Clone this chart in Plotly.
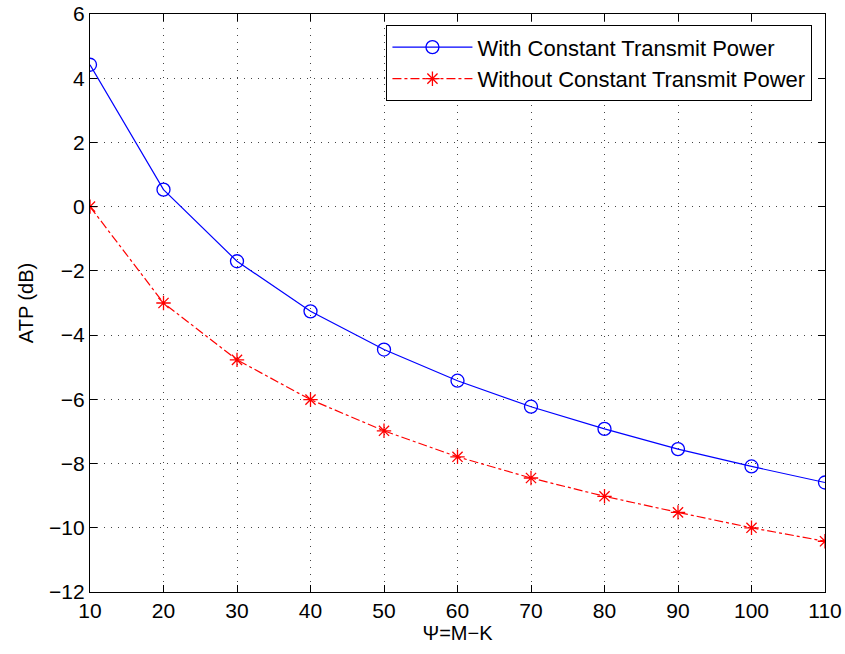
import plotly.graph_objects as go

psi = [10, 20, 30, 40, 50, 60, 70, 80, 90, 100, 110]
atp_const = [4.42, 0.53, -1.70, -3.26, -4.45, -5.42, -6.23, -6.92, -7.55, -8.09, -8.59]
atp_noconst = [0.0, -3.0, -4.77, -6.01, -6.98, -7.79, -8.45, -9.02, -9.52, -10.0, -10.42]
x_ticks = [10, 20, 30, 40, 50, 60, 70, 80, 90, 100, 110]
y_ticks = [-12, -10, -8, -6, -4, -2, 0, 2, 4, 6]

fig = go.Figure()
fig.add_trace(go.Scatter(
    x=psi, y=atp_const, mode="lines+markers",
    name="With Constant Transmit Power",
    line=dict(color="#0000ff", width=1.2),
    marker=dict(symbol="circle-open", size=13, color="#0000ff", line=dict(width=1.3)),
))
fig.add_trace(go.Scatter(
    x=psi, y=atp_noconst, mode="lines+markers",
    name="Without Constant Transmit Power",
    line=dict(color="#ff0000", width=1.2, dash="dashdot"),
    marker=dict(symbol="asterisk-open", size=12, color="#ff0000", line=dict(width=1.3, color="#ff0000")),
))

axis_common = dict(
    showline=True, linecolor="black", linewidth=1.3, mirror="ticks",
    ticks="inside", ticklen=7, tickcolor="black",
    showgrid=True, gridcolor="#444444", griddash="1px,6px", gridwidth=1,
    zeroline=False, tickfont=dict(size=21, color="black"),
)

fig.update_layout(
    width=845, height=654,
    margin=dict(l=90, r=20, t=14, b=62, autoexpand=False),
    paper_bgcolor="white", plot_bgcolor="white",
    font=dict(family="Liberation Sans, Arial, sans-serif", size=20, color="black"),
    xaxis=dict(range=[10, 110], tickvals=x_ticks,
               title=dict(text="Ψ=M−K", standoff=4, font=dict(size=20)), **axis_common),
    yaxis=dict(range=[-12, 6], tickvals=y_ticks, ticktext=[str(v).replace("-", "−") for v in y_ticks],
               title=dict(text="ATP (dB)", standoff=10, font=dict(size=20)), **axis_common),
    legend=dict(x=0.9825, y=0.981, xanchor="right", yanchor="top",
                bgcolor="white", bordercolor="black", borderwidth=1.3,
                font=dict(size=22), tracegroupgap=0, itemwidth=80),
    showlegend=True,
)

fig.write_html("out.html")
